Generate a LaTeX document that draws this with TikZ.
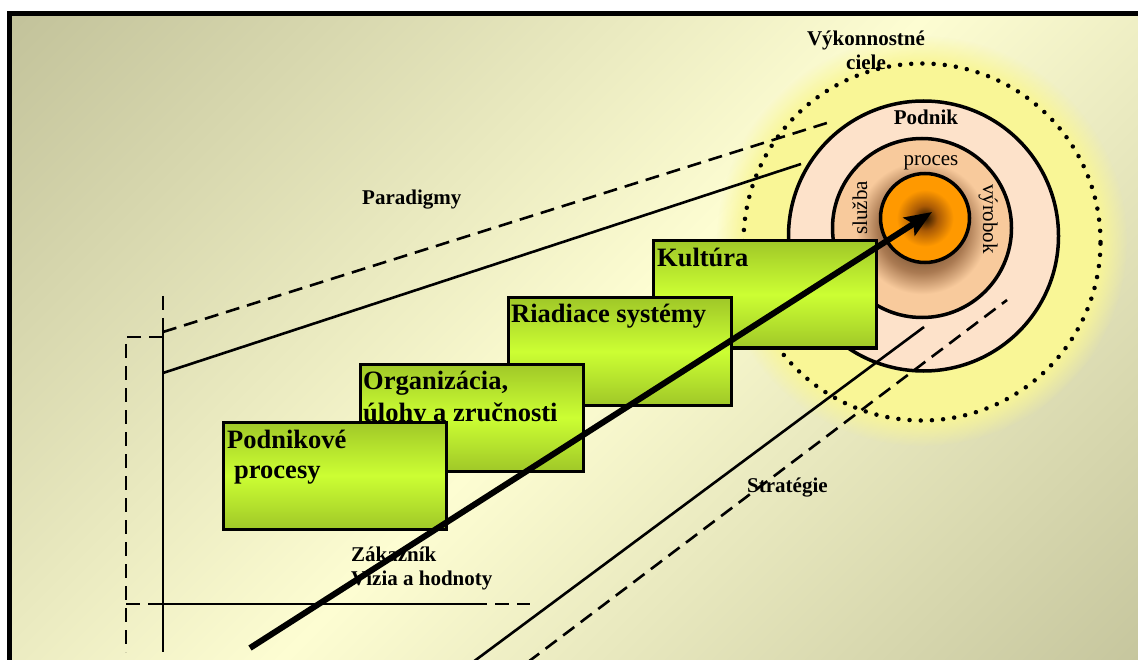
\documentclass[tikz,border=0pt]{standalone}
\usepackage{fontspec}
\setmainfont{Liberation Serif}
\usetikzlibrary{arrows.meta,fadings}

% palette
\definecolor{bgdark}{RGB}{195,195,155}
\definecolor{bglight}{RGB}{253,253,210}
\definecolor{glowyellow}{RGB}{249,246,150}
\definecolor{podnikfill}{RGB}{253,226,202}
\definecolor{peach}{RGB}{248,202,156}
\definecolor{ringmid}{RGB}{170,122,82}
\definecolor{ringdark}{RGB}{60,35,10}
\definecolor{coreorange}{RGB}{255,153,0}
\definecolor{coremid}{RGB}{170,90,5}
\definecolor{coredark}{RGB}{35,18,0}
\definecolor{greenedge}{RGB}{160,200,40}
\definecolor{greenmid}{RGB}{204,255,51}

% diagonal background: dark corners, light band in between
\pgfdeclareverticalshading{bgshade}{100bp}{color(0bp)=(bgdark); color(15bp)=(bgdark);
  color(50bp)=(bglight); color(85bp)=(bgdark); color(100bp)=(bgdark)}
% middle ring darkens towards the core
\pgfdeclareradialshading{ringshade}{\pgfpointorigin}{color(0bp)=(ringdark);
  color(12.5bp)=(ringmid); color(18.5bp)=(peach); color(25bp)=(peach); color(50bp)=(peach)}
% core: dark centre, orange rim
\pgfdeclareradialshading{coreshade}{\pgfpointorigin}{color(0bp)=(coredark);
  color(7bp)=(coremid); color(16bp)=(coreorange); color(25bp)=(coreorange); color(50bp)=(coreorange)}
% soft edge for the yellow halo
\pgfdeclareradialshading{glowmask}{\pgfpointorigin}{color(0bp)=(white);
  color(21.5bp)=(white); color(25bp)=(black); color(50bp)=(black)}
\pgfdeclarefading{glowfade}{\pgfuseshading{glowmask}}

\begin{document}
\begin{tikzpicture}[x=1pt,y=-1pt,
  thinline/.style={line width=2.6pt},
  dashline/.style={line width=2.6pt, dash pattern=on 14pt off 8pt},
  dotring/.style={circle, inner sep=0pt, line width=4.5pt, line cap=round,
    dash pattern=on 0pt off 11.2pt, draw},
  ring/.style={circle, inner sep=0pt, draw, line width=3.5pt},
  stepbox/.style={draw, line width=3pt, inner sep=0pt, anchor=north west,
    minimum width=223pt, minimum height=107pt,
    top color=greenedge, bottom color=greenedge, middle color=greenmid},
  boxtext/.style={anchor=base west, inner sep=0pt,
    font=\bfseries\fontsize{26.5}{30}\selectfont},
  label/.style={anchor=base west, inner sep=0pt,
    font=\bfseries\fontsize{21}{24}\selectfont},
  ringtext/.style={anchor=base, inner sep=0pt, font=\fontsize{21}{24}\selectfont},
  bigarrow/.style={line width=6pt, -{Stealth[length=27pt,width=21pt,inset=5pt]}}]

\useasboundingbox (0,0) rectangle (1138,660);
\clip (0,0) rectangle (1138,660);
\fill[white] (0,0) rectangle (1138,660);

% framed backdrop (right and bottom edges run off the page)
\shade[shading=bgshade, shading angle=45] (9.5,13.5) rectangle (1170,690);
\draw[line width=5pt] (9.5,13.5) rectangle (1170,690);

% target: halo, dotted goal ring, enterprise, process, core
\fill[glowyellow, path fading=glowfade] (922,241) circle (205pt);
\node[dotring, minimum size=357pt] (goals) at (922,242) {};
\node[ring, minimum size=270pt, fill=podnikfill] (podnik) at (923.5,236) {};
\node[ring, minimum size=179pt, shading=ringshade] (proc) at (922,228) {};
\node[ring, minimum size=89pt, shading=coreshade] (core) at (925,218) {};

\node[ringtext, font=\bfseries\fontsize{21}{24}\selectfont] (tpodnik) at (926,125) {Podnik};
\node[ringtext] (tproces) at (931,166) {proces};
\node[ringtext, rotate=90] (tsluzba) at (867,208) {služba};
\node[ringtext, rotate=-90] (tvyrobok) at (983,219) {výrobok};

% paradigm wedge
\coordinate (vtop) at (163,296);
\coordinate (vdash) at (163,332);
\coordinate (vsolid) at (163,373);
\coordinate (vbase) at (163,604);
\coordinate (vbot) at (163,652);
\coordinate (pdEnd) at (830,122);
\coordinate (psEnd) at (801,164);
\draw[dashline] (vtop) -- (vdash);
\draw[thinline] (vdash) -- (vbot);
\draw[dashline] (vdash) -- (pdEnd);
\draw[thinline] (vsolid) -- (psEnd);

% dashed bracket and the base line
\coordinate (brTop) at (163,337);
\coordinate (brCorner) at (126,337);
\coordinate (brBot) at (126,652);
\coordinate (brBase) at (126,604);
\coordinate (baseMid) at (473,604);
\coordinate (baseEnd) at (530,604);
\draw[dashline] (brTop) -- (brCorner) -- (brBot);
\draw[dashline] (brBase) -- (vbase);
\draw[thinline] (vbase) -- (baseMid);
\draw[dashline] (baseMid) -- (baseEnd);

% strategy wedge
\coordinate (ssStart) at (473,662);
\coordinate (ssEnd) at (924,327);
\coordinate (sdStart) at (528,662);
\coordinate (sdEnd) at (1007,300);
\draw[thinline] (ssStart) -- (ssEnd);
\draw[dashline] (sdStart) -- (sdEnd);

% staircase of building blocks (back to front)
\node[stepbox] (kultura) at (651.5,239.5) {};
\node[boxtext] (tkultura) at (657,267) {Kultúra};
\node[stepbox] (riadiace) at (506.5,296.5) {};
\node[boxtext] (triadiace) at (511,323) {Riadiace systémy};
\node[stepbox] (organizacia) at (358.5,362.5) {};
\node[boxtext] (torg1) at (363,389) {Organizácia,};
\node[boxtext] (torg2) at (363,421) {úlohy a zručnosti};
\node[stepbox] (podnikove) at (221.5,420.5) {};
\node[boxtext] (tpod1) at (227,448) {Podnikové};
\node[boxtext] (tpod2) at (234,478) {procesy};

% labels
\node[label] (paradigmy) at (362,205) {Paradigmy};
\node[label] (strategie) at (747,492) {Stratégie};
\node[label] (zakaznik) at (351,561) {Zákazník};
\node[label] (vizia) at (351,585) {Vízia a hodnoty};
\node[label, anchor=base] (vykon1) at (866,46) {Výkonnostné};
\node[label, anchor=base] (vykon2) at (866,70) {ciele};

% main direction arrow into the core
\coordinate (arrStart) at (250,648);
\coordinate (arrTip) at (932,212);
\draw[bigarrow] (arrStart) -- (arrTip);
\end{tikzpicture}
\end{document}
